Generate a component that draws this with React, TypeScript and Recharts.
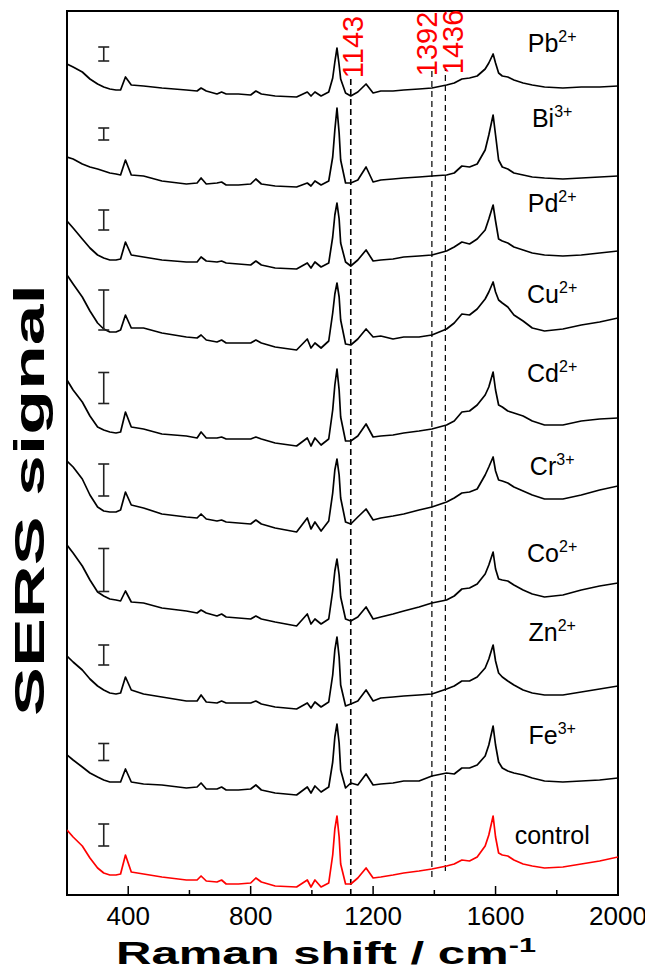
import React from "react";
import {
  ComposedChart,
  Line,
  Scatter,
  ErrorBar,
  XAxis,
  YAxis,
  ReferenceLine,
  ReferenceArea,
} from "recharts";

// Raman shift grid (cm-1) shared by all spectra
const shift = [
  200, 220, 250, 275, 300, 320, 340, 360, 375, 391,
  410, 450, 510, 590, 625, 638, 655, 690, 705, 720,
  760, 800, 817, 835, 880, 950, 985, 997, 1010, 1030,
  1055, 1068, 1075, 1082, 1089, 1094, 1110, 1127, 1150, 1177,
  1200, 1225, 1265, 1300, 1350, 1392, 1440, 1465, 1490, 1515,
  1540, 1566, 1578, 1592, 1600, 1610, 1622, 1640, 1660, 1690,
  1720, 1760, 1820, 1880, 1940, 2000,
];

// stacked (offset) SERS intensities, top to bottom
const pb = [
  831, 828, 823, 816, 811, 808, 806, 805, 805, 818,
  810, 809, 807, 805, 804, 807, 804, 801, 803, 801,
  801, 800, 804, 801, 799, 798, 803, 799, 803, 799,
  803, 817, 833, 847, 830, 816, 802, 799, 803, 811,
  802, 804, 804, 805, 806, 807, 810, 812, 816, 817,
  819, 826, 832, 841, 832, 822, 819, 818, 815, 812,
  810, 808, 807, 808, 808, 809,
];
const bi = [
  738, 736, 731, 728, 726, 724, 722, 721, 720, 735,
  720, 719, 714, 711, 712, 717, 711, 712, 713, 710,
  710, 711, 716, 711, 709, 708, 712, 709, 714, 710,
  714, 738, 765, 787, 762, 735, 712, 712, 715, 728,
  713, 715, 716, 717, 718, 719, 720, 722, 729, 728,
  731, 745, 760, 780, 760, 735, 728, 726, 722, 720,
  718, 717, 716, 717, 718, 719,
];
const pd = [
  674, 667, 656, 647, 640, 637, 635, 635, 636, 653,
  640, 638, 635, 633, 633, 638, 634, 633, 634, 632,
  631, 630, 634, 630, 627, 626, 632, 627, 633, 628,
  632, 658, 680, 692, 676, 652, 633, 629, 635, 645,
  634, 635, 636, 638, 639, 640, 644, 648, 653, 651,
  656, 665, 676, 690, 674, 656, 654, 652, 648, 645,
  642, 640, 639, 640, 642, 644,
];
const cu = [
  620, 611, 598, 584, 572, 566, 563, 563, 565, 580,
  567, 567, 562, 558, 557, 560, 555, 553, 555, 552,
  552, 552, 555, 552, 548, 545, 556, 547, 552, 547,
  554, 582, 601, 612, 598, 575, 551, 550, 556, 566,
  558, 559, 556, 558, 558, 560, 566, 572, 581, 580,
  586, 596, 603, 613, 603, 595, 592, 588, 580, 574,
  567, 564, 566, 570, 573, 577,
];
const cd = [
  515, 505, 493, 479, 468, 465, 463, 462, 463, 483,
  468, 466, 461, 459, 457, 463, 457, 457, 458, 456,
  456, 456, 458, 456, 452, 449, 457, 449, 457, 450,
  456, 485, 510, 526, 505, 478, 454, 454, 459, 471,
  458, 459, 460, 462, 464, 466, 470, 474, 483, 484,
  490, 500, 508, 523, 505, 490, 488, 484, 482, 479,
  474, 470, 470, 474, 476, 477,
];
const cr = [
  434, 428, 416, 400, 388, 384, 383, 383, 385, 403,
  390, 387, 381, 378, 377, 381, 376, 374, 375, 373,
  372, 371, 375, 371, 367, 363, 377, 366, 373, 364,
  374, 402, 425, 436, 420, 397, 373, 371, 378, 386,
  375, 377, 379, 381, 385, 388, 393, 397, 402, 403,
  406, 420, 428, 438, 424, 415, 414, 412, 408, 404,
  400, 396, 396, 400, 405, 409,
];
const co = [
  350, 342, 329, 315, 303, 299, 296, 295, 294, 304,
  293, 292, 287, 284, 282, 285, 282, 279, 281, 278,
  277, 276, 279, 276, 273, 269, 281, 271, 276, 271,
  276, 304, 324, 336, 320, 298, 276, 274, 278, 288,
  276, 278, 281, 284, 288, 292, 295, 299, 306, 307,
  311, 321, 330, 343, 326, 316, 315, 314, 310, 305,
  301, 298, 300, 305, 309, 312,
];
const zn = [
  239, 233, 225, 216, 209, 205, 202, 201, 202, 218,
  205, 201, 198, 194, 194, 200, 193, 192, 194, 192,
  192, 192, 194, 191, 188, 186, 192, 187, 193, 188,
  193, 220, 245, 258, 238, 210, 189, 191, 194, 205,
  194, 197, 198, 199, 200, 201, 206, 209, 214, 214,
  218, 227, 236, 250, 234, 222, 218, 214, 210, 205,
  202, 200, 200, 203, 206, 209,
];
const fe = [
  140, 135, 128, 122, 118, 115, 113, 113, 113, 126,
  113, 111, 110, 107, 108, 112, 106, 106, 108, 105,
  105, 106, 110, 105, 102, 100, 108, 102, 109, 103,
  108, 133, 158, 171, 152, 125, 107, 112, 110, 121,
  110, 111, 112, 114, 114, 119, 122, 121, 127, 127,
  130, 139, 150, 169, 150, 133, 127, 124, 122, 120,
  117, 114, 113, 114, 115, 117,
];
const control = [
  65, 58, 49, 37, 27, 22, 20, 20, 21, 40,
  23, 21, 18, 15, 15, 19, 14, 13, 15, 11,
  11, 12, 17, 13, 9, 8, 15, 8, 15, 8,
  12, 40, 66, 79, 58, 31, 11, 11, 17, 27,
  17, 18, 20, 22, 24, 26, 29, 31, 35, 34,
  38, 49, 60, 79, 58, 42, 40, 39, 35, 31,
  29, 27, 28, 31, 34, 38,
];

const spectra = [pb, bi, pd, cu, cd, cr, co, zn, fe, control];
const ions = ["Pb", "Bi", "Pd", "Cu", "Cd", "Cr", "Co", "Zn", "Fe", "control"];
const charges = ["2+", "3+", "2+", "2+", "2+", "3+", "2+", "2+", "3+", ""];

// intensity scale bars (centre, half length) and name label level
const barLevel = [841, 761, 675, 585, 507, 415, 325, 240, 143, 60];
const barHalf = [7, 6, 10, 20, 15.5, 16, 21.5, 10, 8.5, 11];
const labelLevel = [843, 768, 683, 592, 513, 420, 333, 254, 151, 51];

// marked bands
const markerText = ["1143", "1392", "1436"];
const markerShift = [1127, 1392, 1436];
const markerTop = [818, 825, 826];
const markerBottom = [0, 18, 24];
const markerLabelShift = [1133, 1373, 1460];
const markerLabelLevel = [848, 851, 853];

const xTicks = [400, 600, 800, 1000, 1200, 1400, 1600, 1800, 2000];

const FONT = "'Liberation Sans', Arial, sans-serif";

const rows = shift.map((x, i) => {
  const r: Record<string, number> = { x };
  spectra.forEach((s, k) => (r[`s${k}`] = s[i]));
  return r;
});

const bars = barLevel.map((y, i) => ({ x: 320, y, err: barHalf[i] }));
const names = ions.map((ion, i) => ({ x: 1785, y: labelLevel[i], ion, charge: charges[i] }));
const markerLabels = markerText.map((t, i) => ({ x: markerLabelShift[i], y: markerLabelLevel[i], t }));

function renderTick(props: any) {
  const { x, y, payload } = props;
  const v = payload.value;
  const major = v % 400 === 0;
  return (
    <g>
      {v < 2000 && (
        <line x1={x} x2={x} y1={y} y2={y - (major ? 9 : 5)} stroke="#000" strokeWidth={1.5} />
      )}
      {major && (
        <text x={x} y={y + 30} textAnchor="middle" fontSize={26} fontFamily={FONT} fill="#000">
          {v}
        </text>
      )}
    </g>
  );
}

function NameLabel(props: any) {
  const { cx, cy, payload } = props;
  return (
    <text x={cx} y={cy} textAnchor="middle" fontSize={25} fontFamily={FONT} fill="#000">
      {payload.ion}
      {payload.charge && (
        <tspan dy={-10} fontSize={16}>
          {payload.charge}
        </tspan>
      )}
    </text>
  );
}

function MarkerLabel(props: any) {
  const { cx, cy, payload } = props;
  return (
    <text
      transform={`translate(${cx}, ${cy}) rotate(-90)`}
      textAnchor="middle"
      dy="0.36em"
      fontSize={29}
      fontFamily={FONT}
      fill="#ff0000"
    >
      {payload.t}
    </text>
  );
}

export default function App() {
  return (
    <div style={{ position: "relative", width: 653, height: 968, marginLeft: -8, marginTop: -8 }}>
      <ComposedChart
        width={653}
        height={968}
        data={rows}
        margin={{ top: 11, right: 35, bottom: 0, left: 67 }}
      >
        <XAxis
          dataKey="x"
          type="number"
          domain={[200, 2000]}
          ticks={xTicks}
          interval={0}
          tickLine={false}
          axisLine={false}
          tickSize={0}
          tickMargin={0}
          height={73}
          tick={renderTick}
          allowDataOverflow
        />
        <YAxis type="number" domain={[0, 884]} hide width={0} allowDataOverflow />
        <ReferenceArea
          x1={200}
          x2={2000}
          y1={0}
          y2={884}
          fill="none"
          stroke="#000"
          strokeWidth={2}
          ifOverflow="visible"
        />
        {markerShift.map((m, i) => (
          <ReferenceLine
            key={m}
            segment={[
              { x: m, y: markerBottom[i] },
              { x: m, y: markerTop[i] },
            ]}
            stroke="#000"
            strokeWidth={i === 0 ? 1.6 : 1.2}
            strokeDasharray="6 4"
          />
        ))}
        {spectra.map((_, k) => (
          <Line
            key={k}
            dataKey={`s${k}`}
            type="linear"
            stroke={k === 9 ? "#ff0000" : "#000"}
            strokeWidth={1.7}
            strokeLinejoin="round"
            dot={false}
            activeDot={false}
            isAnimationActive={false}
          />
        ))}
        <Scatter data={bars} dataKey="y" shape={() => <g />} isAnimationActive={false}>
          <ErrorBar dataKey="err" direction="y" width={5.5} stroke="#222" strokeWidth={1.6} />
        </Scatter>
        <Scatter data={names} dataKey="y" shape={NameLabel} isAnimationActive={false} />
        <Scatter data={markerLabels} dataKey="y" shape={MarkerLabel} isAnimationActive={false} />
      </ComposedChart>
      <svg
        width={653}
        height={976}
        style={{ position: "absolute", left: 0, top: 0, pointerEvents: "none", overflow: "visible" }}
      >
        <text
          x={326}
          y={964}
          textAnchor="middle"
          fontSize={32}
          fontWeight="bold"
          fontFamily={FONT}
          textLength={420}
          lengthAdjust="spacingAndGlyphs"
        >
          Raman shift / cm
          <tspan dy={-12} fontSize={20}>
            -1
          </tspan>
        </text>
        <text
          transform="translate(44, 500) rotate(-90)"
          textAnchor="middle"
          fontSize={42}
          fontWeight="bold"
          fontFamily={FONT}
          textLength={432}
          lengthAdjust="spacingAndGlyphs"
        >
          SERS signal
        </text>
      </svg>
    </div>
  );
}
